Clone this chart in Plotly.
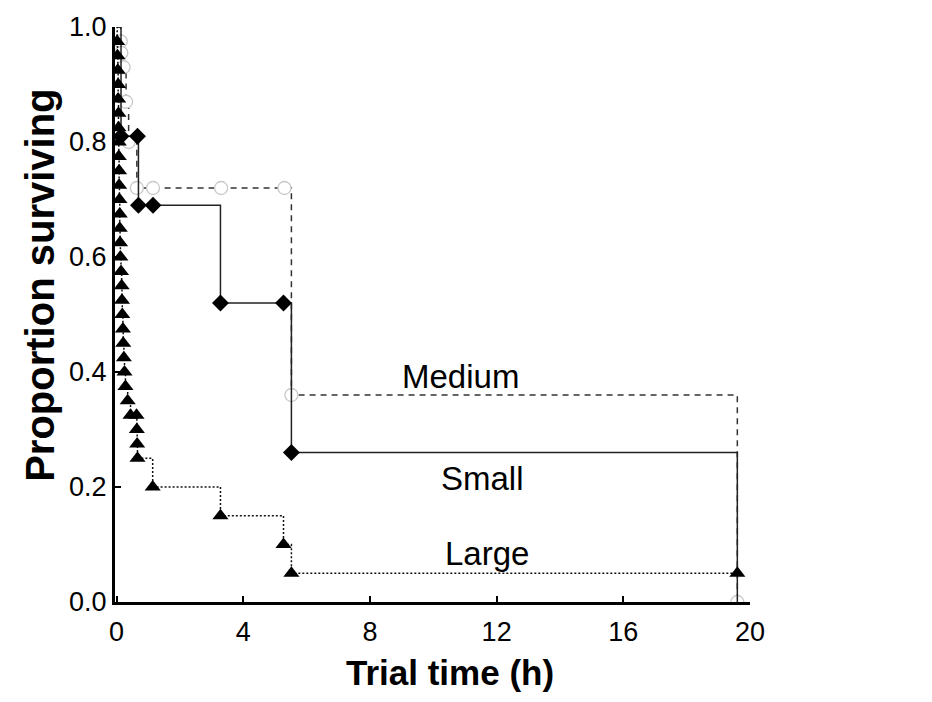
import plotly.graph_objects as go

# ---- data ----
large_t = [0.02, 0.03, 0.04, 0.05, 0.05, 0.06, 0.06, 0.07, 0.07, 0.08, 0.08, 0.09, 0.10,
           0.10, 0.11, 0.12, 0.14, 0.16, 0.17, 0.18, 0.20, 0.21, 0.23, 0.25, 0.28, 0.35,
           0.44, 0.63, 0.64, 0.65, 0.66, 1.14, 3.28, 5.27, 5.52, 19.6]
large_s = [0.975, 0.95, 0.925, 0.90, 0.875, 0.85, 0.825, 0.80, 0.775, 0.75, 0.725, 0.70,
           0.675, 0.65, 0.625, 0.60, 0.575, 0.55, 0.525, 0.50, 0.475, 0.45, 0.425, 0.40,
           0.375, 0.35, 0.325, 0.325, 0.30, 0.275, 0.25, 0.20, 0.15, 0.10, 0.05, 0.05]

medium_t = [0.13, 0.15, 0.22, 0.30, 0.38, 0.64, 1.15, 3.30, 5.30, 5.52, 19.6]
medium_s = [0.975, 0.955, 0.93, 0.87, 0.80, 0.72, 0.72, 0.72, 0.72, 0.36, 0.0]

small_t = [0.14, 0.66, 0.69, 1.15, 3.28, 5.27, 5.52]
small_s = [0.81, 0.81, 0.69, 0.69, 0.52, 0.52, 0.26]
small_end_t = 19.6
small_end_s = 0.0

x_ticks = [0, 4, 8, 12, 16, 20]
y_ticks = [0.0, 0.2, 0.4, 0.6, 0.8, 1.0]

labels = ["Medium", "Small", "Large"]
label_x = [10.85, 11.55, 11.7]
label_y = [0.393, 0.215, 0.085]

x_title = "Trial time (h)"
y_title = "Proportion surviving"

FONT = "Liberation Sans, Arial, sans-serif"

fig = go.Figure()

# Medium: dashed line, open light circles
fig.add_trace(go.Scatter(
    x=[0] + medium_t, y=[1.0] + medium_s, mode="lines", line_shape="hv",
    line=dict(color="#333333", width=1.5, dash="6px,5px"), showlegend=False, hoverinfo="skip"))
fig.add_trace(go.Scatter(
    x=medium_t, y=medium_s, mode="markers",
    marker=dict(symbol="circle", size=13, color="white", line=dict(color="#c8c8c8", width=1.3)),
    showlegend=False))

# Small: solid line, black diamonds
fig.add_trace(go.Scatter(
    x=[0] + small_t + [small_end_t], y=[1.0] + small_s + [small_end_s], mode="lines",
    line_shape="hv", line=dict(color="#222222", width=1.5), showlegend=False, hoverinfo="skip"))
fig.add_trace(go.Scatter(
    x=small_t, y=small_s, mode="markers",
    marker=dict(symbol="diamond", size=13, color="black"), showlegend=False))

# Large: dotted line, black triangles
fig.add_trace(go.Scatter(
    x=[0] + large_t, y=[1.0] + large_s, mode="lines", line_shape="hv",
    line=dict(color="#111111", width=1.5, dash="2px,2px"), showlegend=False, hoverinfo="skip"))
fig.add_trace(go.Scatter(
    x=large_t, y=large_s, mode="markers",
    marker=dict(symbol="triangle-up", size=14, color="black"), showlegend=False))

for t, x, y in zip(labels, label_x, label_y):
    fig.add_annotation(x=x, y=y, text=t, showarrow=False,
                       font=dict(family=FONT, size=33, color="black"),
                       xanchor="center", yanchor="middle")

# axis titles as annotations (positioned like the reference)
fig.add_annotation(xref="paper", yref="paper", x=0.5276, y=-0.122, text=f"<b>{x_title}</b>",
                   showarrow=False, font=dict(family=FONT, size=35, color="black"),
                   xanchor="center", yanchor="middle")
fig.add_annotation(xref="paper", yref="paper", x=-0.118, y=0.55, text=f"<b>{y_title}</b>",
                   showarrow=False, textangle=-90, font=dict(family=FONT, size=40, color="black"),
                   xanchor="center", yanchor="middle")

fig.update_layout(
    width=932, height=702,
    margin=dict(l=115, r=182, t=27, b=100),
    paper_bgcolor="white", plot_bgcolor="white",
    font=dict(family=FONT, color="black"),
)
fig.update_xaxes(
    range=[-0.05, 20], tickvals=x_ticks, ticktext=[str(v) for v in x_ticks],
    showgrid=False, zeroline=False, showline=True, linecolor="black", linewidth=3,
    ticks="inside", ticklen=6, tickwidth=2, tickcolor="black",
    tickfont=dict(family=FONT, size=27), ticklabelstandoff=4,
)
fig.update_yaxes(
    range=[0, 1.0], tickvals=y_ticks, ticktext=[f"{v:.1f}" for v in y_ticks],
    showgrid=False, zeroline=False, showline=True, linecolor="black", linewidth=3,
    ticks="inside", ticklen=6, tickwidth=2, tickcolor="black",
    tickfont=dict(family=FONT, size=27),
)

fig.write_html("out.html")
